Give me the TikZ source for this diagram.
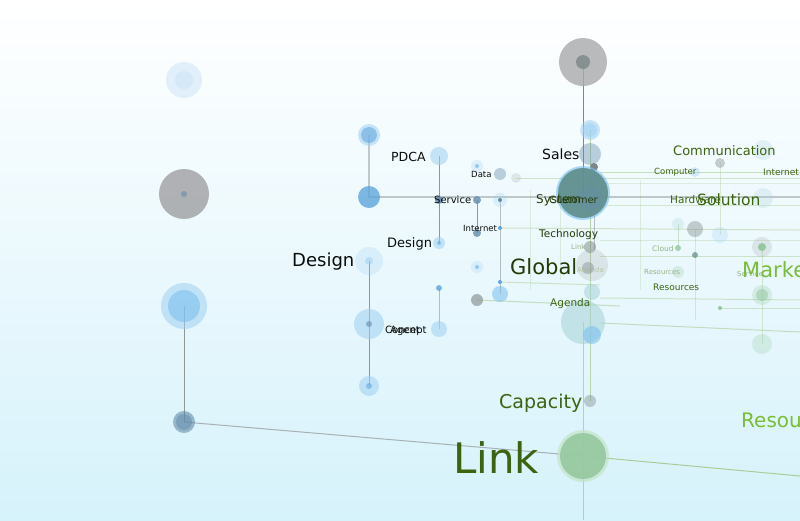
\documentclass[tikz,border=0pt]{standalone}
\usepackage{fontspec}
\setmainfont{DejaVu Sans}
\usepackage{tikz}
\usetikzlibrary{backgrounds,calc}
\definecolor{bgtop}{RGB}{255,255,255}
\definecolor{bgmid}{RGB}{242,251,254}
\definecolor{bgbot}{RGB}{214,242,251}
\definecolor{bluepale}{RGB}{205,228,247}
\definecolor{bluelt}{RGB}{160,208,242}
\definecolor{bluemid}{RGB}{120,190,240}
\definecolor{bluedk}{RGB}{95,165,220}
\definecolor{steel}{RGB}{100,140,170}
\definecolor{greyc}{RGB}{168,170,172}
\definecolor{greydk}{RGB}{125,135,135}
\definecolor{tealc}{RGB}{95,140,138}
\definecolor{tealpale}{RGB}{165,210,215}
\definecolor{greenc}{RGB}{150,200,160}
\definecolor{greenpale}{RGB}{190,225,190}
\definecolor{wiregrey}{RGB}{145,150,150}
\definecolor{wiregreen}{RGB}{170,205,150}
\definecolor{txtdark}{RGB}{10,12,10}
\definecolor{txtolive}{RGB}{35,58,5}
\definecolor{txtgreen}{RGB}{60,100,15}
\definecolor{txtlime}{RGB}{120,190,55}
\definecolor{txtfaint}{RGB}{150,180,130}
\newcommand{\fsz}[1]{\fontsize{#1}{#1}\selectfont}
\tikzset{
  lbl/.style={anchor=west, inner sep=0pt, text=#1},
  wire/.style={draw=#1, line width=1pt},
  bub/.style={fill=#1, fill opacity=0.55},
  faint/.style={fill=#1, fill opacity=0.25}
}
\begin{document}
\begin{tikzpicture}[x=1pt,y=-1pt]
\useasboundingbox (0,0) rectangle (800,520);
\shade[top color=bgtop, middle color=bgmid, bottom color=bgbot] (0,0) rectangle (800,520);
\begin{scope}
\clip (0,0) rectangle (800,520);
\coordinate (paleL) at (184,80);
\coordinate (greyL) at (184,194);
\coordinate (blueL) at (184,306);
\coordinate (baseL) at (184,422);
\coordinate (baseR) at (800,476);
\coordinate (pdcaA) at (369,135);
\coordinate (pdcaB) at (369,197);
\coordinate (rowS) at (800,197);
\coordinate (desA) at (369,261);
\coordinate (desB) at (369,324);
\coordinate (desC) at (369,386);
\coordinate (pdcaC) at (439,156);
\coordinate (servC) at (439,200);
\coordinate (desD) at (439,243);
\coordinate (agA) at (439,288);
\coordinate (agB) at (439,329);
\coordinate (dataA) at (477,166);
\coordinate (dataB) at (500,174);
\coordinate (dataC) at (516,178);
\coordinate (servA) at (477,200);
\coordinate (servB) at (477,233);
\coordinate (intA) at (500,200);
\coordinate (intB) at (500,228);
\coordinate (intC) at (500,294);
\coordinate (globA) at (477,267);
\coordinate (globB) at (500,282);
\coordinate (agnA) at (477,300);
\coordinate (salesTop) at (583,62);
\coordinate (salesA) at (590,130);
\coordinate (salesB) at (590,154);
\coordinate (salesC) at (594,167);
\coordinate (sysC) at (583,193);
\coordinate (techA) at (590,247);
\coordinate (globC) at (592,265);
\coordinate (globD) at (592,292);
\coordinate (agnB) at (583,322);
\coordinate (agnC) at (592,335);
\coordinate (capA) at (590,401);
\coordinate (linkC) at (583,456);
\coordinate (comA) at (720,163);
\coordinate (comB) at (763,150);
\coordinate (compA) at (695,172);
\coordinate (solA) at (763,198);
\coordinate (hwA) at (678,224);
\coordinate (hwB) at (678,248);
\coordinate (hwC) at (695,229);
\coordinate (hwD) at (720,235);
\coordinate (mkA) at (762,247);
\coordinate (cldA) at (695,255);
\coordinate (resA) at (678,272);
\coordinate (mkB) at (762,295);
\coordinate (mkC) at (762,344);
\coordinate (mkD) at (720,308);

\draw[wire=wiregreen, opacity=0.5] (dataC) -- (800,178);
\draw[wire=wiregreen, opacity=0.6] (600,172) -- (800,172);
\draw[wire=wiregreen, opacity=0.3] (600,183) -- (800,183);
\draw[wire=wiregreen, opacity=0.4] (600,205) -- (800,205);
\draw[wire=wiregreen, opacity=0.5] (intB) -- (800,230);
\draw[wire=wiregreen, opacity=0.35] (600,240) -- (800,240);
\draw[wire=wiregreen, opacity=0.5] (600,256) -- (800,256);
\draw[wire=wiregreen, opacity=0.5] (globB) -- (600,285);
\draw[wire=wiregreen, opacity=0.5] (600,298) -- (800,300);
\draw[wire=wiregreen, opacity=0.6] (agnA) -- (620,306);
\draw[wire=wiregreen, opacity=0.5] (mkD) -- (800,308);
\draw[wire=wiregreen, opacity=0.6] (600,323) -- (800,332);
\draw[wire=wiregreen, opacity=0.3] (530,190) -- (530,290);
\draw[wire=wiregreen, opacity=0.3] (560,185) -- (560,280);
\draw[wire=wiregreen, opacity=0.5] (hwA) -- (hwB);
\draw[wire=wiregreen, opacity=0.4] (hwC) -- (695,320);
\draw[wire=wiregreen, opacity=0.4] (comA) -- (720,235);
\draw[wire=wiregreen, opacity=0.4] (mkA) -- (mkC);
\draw[wire=wiregreen, opacity=0.3] (640,180) -- (640,290);
\draw[wire=wiregreen, opacity=0.8] (agnB) -- (583,520);
\draw[wire=wiregreen, opacity=0.8] (salesA) -- (capA);
\draw[wire=wiregrey, opacity=0.6] (salesC) -- (594,250);
\draw[wire=wiregrey, line width=1.8pt, opacity=0.5] (pdcaA) -- (pdcaB) -- (rowS);
\draw[wire=wiregrey] (blueL) -- (baseL);
\draw[wire=wiregrey, opacity=0.7] (baseL) -- (linkC);
\draw[wire=wiregreen] (linkC) -- (baseR);
\draw[wire=greydk] (salesTop) -- (583,200);
\draw[wire=wiregrey] (desA) -- (desC);
\draw[wire=wiregrey] (pdcaC) -- (desD);
\draw[wire=wiregrey, opacity=0.6] (agA) -- (agB);
\draw[wire=wiregrey] (servA) -- (servB);
\draw[wire=wiregrey, opacity=0.6] (intA) -- (intC);

\fill[bub=bluepale] (paleL) circle (18);
\fill[bub=bluepale] (paleL) circle (9);
\fill[greyc, opacity=0.9] (greyL) circle (25);
\fill[steel, opacity=0.6] (greyL) circle (3);
\fill[bub=bluelt] (blueL) circle (23);
\fill[bub=bluemid] (blueL) circle (16);
\fill[steel, opacity=0.6] (baseL) circle (11);
\fill[steel, opacity=0.5] (baseL) circle (8);
\fill[bub=bluelt] (pdcaA) circle (11);
\fill[bub=bluedk] (pdcaA) circle (8);
\fill[bluedk, opacity=0.8] (pdcaB) circle (11);
\fill[faint=bluelt] (desA) circle (14);
\fill[bub=bluelt] (desA) circle (4);
\fill[bub=bluelt] (desB) circle (15);
\fill[steel, opacity=0.6] (desB) circle (3);
\fill[bub=bluelt] (desC) circle (10);
\fill[bub=bluedk] (desC) circle (3);
\fill[bub=bluelt] (pdcaC) circle (9);
\fill[steel, opacity=0.9] (servC) circle (4);
\fill[bub=bluelt] (desD) circle (6);
\fill[bub=bluedk] (desD) circle (2);
\fill[bluedk, opacity=0.8] (agA) circle (3);
\fill[bub=bluelt] (agB) circle (8);
\fill[faint=bluelt] (dataA) circle (6);
\fill[bub=bluedk] (dataA) circle (2);
\fill[steel, opacity=0.4] (dataB) circle (6);
\fill[faint=greyc] (dataC) circle (5);
\fill[steel, opacity=0.8] (servA) circle (4);
\fill[steel, opacity=0.8] (servB) circle (4);
\fill[faint=bluelt] (intA) circle (7);
\fill[steel] (intA) circle (2);
\fill[bluedk] (intB) circle (2);
\fill[bub=bluemid] (intC) circle (8);
\fill[faint=bluelt] (globA) circle (6);
\fill[bub=bluedk] (globA) circle (2);
\fill[bluedk] (globB) circle (2);
\fill[greydk, opacity=0.6] (agnA) circle (6);
\fill[greyc, opacity=0.8] (salesTop) circle (24);
\fill[greydk, opacity=0.8] (salesTop) circle (7);
\fill[bub=bluelt] (salesA) circle (10);
\fill[bub=bluelt] (salesA) circle (7);
\fill[steel, opacity=0.4] (salesB) circle (11);
\fill[greydk] (salesC) circle (4);
\fill[bluemid, opacity=0.6] (sysC) circle (27);
\fill[tealc, opacity=0.9] (sysC) circle (25);
\fill[steel, opacity=0.4] (590,198) circle (12);
\fill[greydk, opacity=0.5] (techA) circle (6);
\fill[faint=greyc] (globC) circle (16);
\fill[greydk, opacity=0.4] (588,268) circle (6);
\fill[bub=tealpale] (globD) circle (8);
\fill[bub=tealpale] (agnB) circle (22);
\fill[bub=bluemid] (agnC) circle (9);
\fill[greydk, opacity=0.4] (capA) circle (6);
\fill[greenpale, opacity=0.6] (linkC) circle (26);
\fill[greenc, opacity=0.9] (linkC) circle (23);
\fill[greydk, opacity=0.4] (comA) circle (5);
\fill[faint=tealpale] (comB) circle (10);
\fill[faint=bluemid] (compA) circle (5);
\fill[faint=tealpale] (solA) circle (10);
\fill[faint=tealpale] (hwA) circle (6);
\fill[greenc, opacity=0.8] (hwB) circle (3);
\fill[greydk, opacity=0.4] (hwC) circle (8);
\fill[faint=bluelt] (hwD) circle (8);
\fill[faint=greyc] (mkA) circle (10);
\fill[greenc] (mkA) circle (4);
\fill[tealc, opacity=0.7] (cldA) circle (3);
\fill[faint=greenc] (resA) circle (6);
\fill[faint=greenc] (mkB) circle (10);
\fill[bub=greenc] (mkB) circle (6);
\fill[faint=greenc] (mkC) circle (10);
\fill[greenc] (mkD) circle (2);

\node[lbl=txtdark, font=\fsz{18}] (lDesign) at (292,262) {Design};
\node[lbl=txtdark, font=\fsz{12.5}] (lPdca) at (391,157) {PDCA};
\node[lbl=txtdark, font=\fsz{10}] (lService) at (434,200) {Service};
\node[lbl=txtdark, font=\fsz{13}] (lDesignB) at (387,244) {Design};
\node[lbl=txtdark, font=\fsz{10}] (lConcept) at (385,331) {Concept};
\node[lbl=txtdark, font=\fsz{10}] (lAgent) at (390,331) {Agent};
\node[lbl=txtdark, font=\fsz{8.5}] (lData) at (471,174) {Data};
\node[lbl=txtdark, font=\fsz{8.5}] (lInternet) at (463,228) {Internet};
\node[lbl=txtdark, font=\fsz{14}] (lSales) at (542,154) {Sales};
\node[lbl=txtolive, font=\fsz{12}] (lSystem) at (536,200) {System};
\node[lbl=txtolive, font=\fsz{10}] (lCustomer) at (549,200) {Customer};
\node[lbl=txtolive, font=\fsz{10.5}] (lTech) at (539,235) {Technology};
\node[lbl=txtfaint, font=\fsz{7}] (lLink) at (571,247) {Link};
\node[lbl=txtolive, font=\fsz{21}] (lGlobal) at (510,267) {Global};
\node[lbl=txtfaint, font=\fsz{7}, opacity=0.6] (lAgendaB) at (577,271) {Agenda};
\node[lbl=txtgreen, font=\fsz{10.5}] (lAgenda) at (550,304) {Agenda};
\node[lbl=txtgreen, font=\fsz{19}] (lCapacity) at (499,403) {Capacity};
\node[lbl=txtgreen, font=\fsz{42}] (lLinkB) at (453,458) {Link};
\node[lbl=txtgreen, font=\fsz{13}] (lComm) at (673,151) {Communication};
\node[lbl=txtgreen, font=\fsz{8.5}] (lComputer) at (654,172) {Computer};
\node[lbl=txtgreen, font=\fsz{9}] (lInternetB) at (763,172) {Internet};
\node[lbl=txtgreen, font=\fsz{10.5}] (lHardware) at (670,200) {Hardware};
\node[lbl=txtgreen, font=\fsz{15.5}] (lSolution) at (697,200) {Solution};
\node[lbl=txtfaint, font=\fsz{7.5}] (lCloud) at (652,249) {Cloud};
\node[lbl=txtfaint, font=\fsz{7}] (lResB) at (644,272) {Resources};
\node[lbl=txtgreen, font=\fsz{9}] (lResources) at (653,287) {Resources};
\node[lbl=txtfaint, font=\fsz{7}] (lServiceB) at (737,274) {Service};
\node[lbl=txtlime, font=\fsz{21}] (lMarketing) at (742,272) {Marketing};
\node[lbl=txtlime, font=\fsz{20}] (lResC) at (741,420) {Resources};
\end{scope}
\end{tikzpicture}
\end{document}
